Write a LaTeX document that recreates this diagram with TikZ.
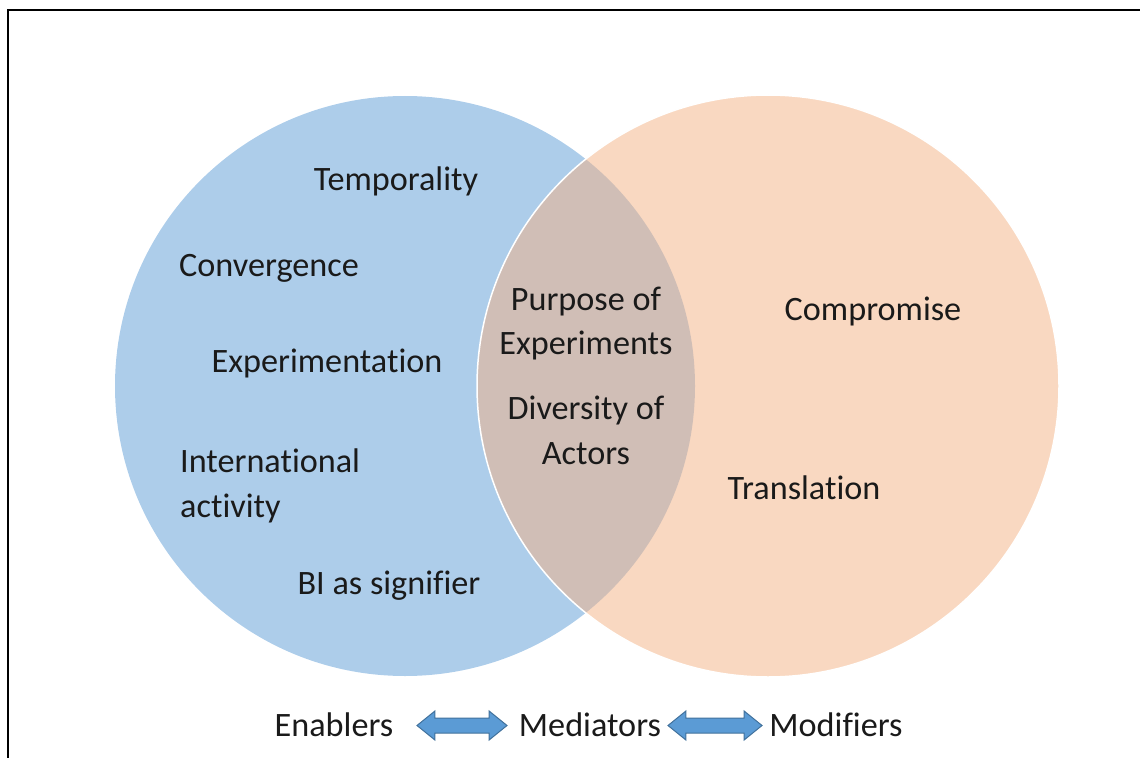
\documentclass[tikz,border=0pt]{standalone}
\usepackage{fontspec}
\setmainfont{Carlito}[Ligatures={NoCommon}]
\usetikzlibrary{shapes.arrows}
\definecolor{bluefill}{HTML}{5B9BD5}
\definecolor{orangefill}{HTML}{F4B183}
\definecolor{arrowfill}{HTML}{5B9BD5}
\definecolor{arrowline}{HTML}{41719C}
\definecolor{inktext}{HTML}{1A1A1A}
\tikzset{
  lbl/.style={inner sep=0pt, anchor=base, text=inktext,
    font=\fontsize{34.2bp}{45bp}\selectfont},
  lblL/.style={lbl, anchor=base west},
  dblarrow/.style={double arrow, draw=arrowline, fill=arrowfill, line width=1bp,
    double arrow head extend=7bp, double arrow tip angle=78,
    inner xsep=0pt, inner ysep=7bp, minimum height=90bp},
  frameline/.style={line width=2bp, black}
}
\begin{document}
\begin{tikzpicture}[x=1bp, y=-1bp]
  \useasboundingbox (0,0) rectangle (1140,758);
  % frame (top and left edges)
  \draw[frameline] (8,758) -- (8,10) -- (1140,10);

  % the two sets
  \fill[bluefill, fill opacity=0.5] (405,386) circle[radius=290];
  \draw[white, line width=1.5bp, fill=orangefill, fill opacity=0.5]
    (768,386) circle[radius=291];

  % left set
  \node[lbl] (temp) at (396,190) {Temporality};
  \node[lbl] (conv) at (269,276) {Convergence};
  \node[lbl] (expt) at (327,372) {Experimentation};
  \node[lblL] (intl1) at (180,472) {International};
  \node[lblL] (intl2) at (180,517) {activity};
  \node[lbl] (bisig) at (389,594) {BI as signifier};

  % overlap
  \node[lbl] (purp1) at (586,310) {Purpose of};
  \node[lbl] (purp2) at (586,354) {Experiments};
  \node[lbl] (div1) at (586,419) {Diversity of};
  \node[lbl] (div2) at (586,464) {Actors};

  % right set
  \node[lbl] (comp) at (873,320) {Compromise};
  \node[lbl] (trans) at (804,499) {Translation};

  % legend
  \node[lbl] (enab) at (334,736) {Enablers};
  \node[lbl] (medi) at (590,736) {Mediators};
  \node[lbl] (modi) at (836,736) {Modifiers};
  \node[dblarrow] (arr1) at (462,725.5) {};
  \node[dblarrow, minimum height=94bp] (arr2) at (715,725.5) {};
\end{tikzpicture}
\end{document}
